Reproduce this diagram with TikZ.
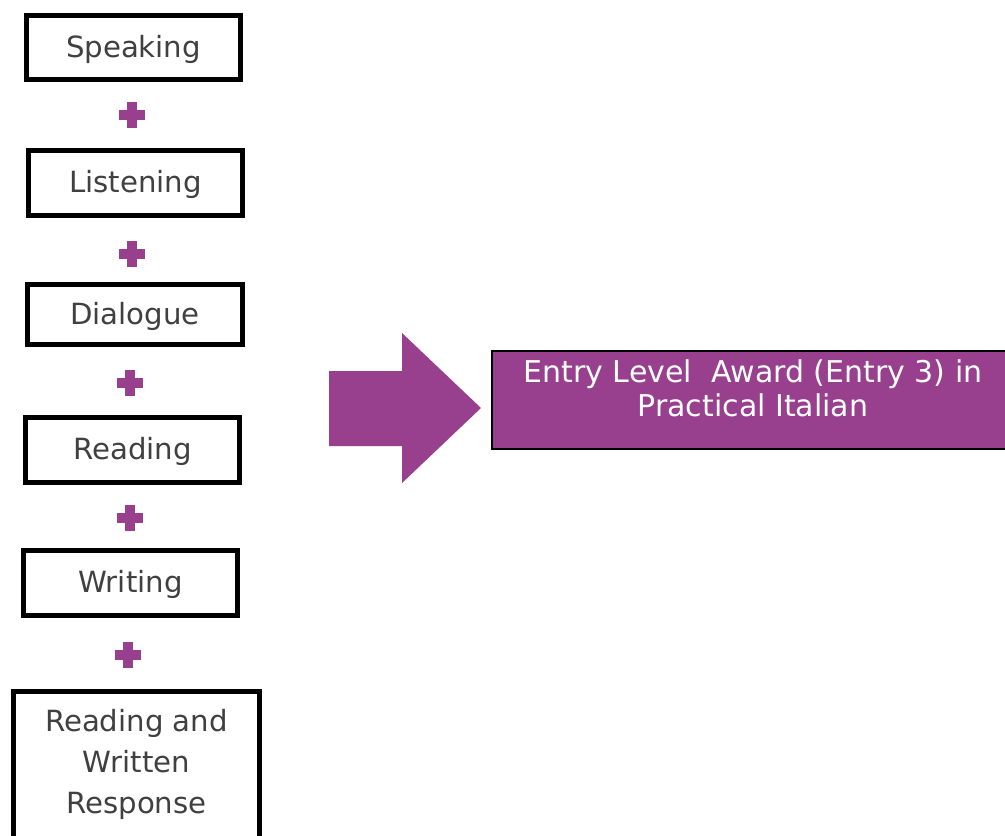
\documentclass[tikz,border=0pt]{standalone}
\usepackage{fontspec}
\setmainfont{DejaVu Sans}
\definecolor{purp}{RGB}{152,63,142}
\definecolor{txtgray}{RGB}{64,64,64}
\tikzset{
  stepbox/.style={draw=black, line width=5pt, fill=white, rectangle, inner sep=0pt,
    text=txtgray, font=\fontsize{29.2}{41}\selectfont, text height=22pt, text depth=3pt},
  boxtext/.style={text=txtgray, align=center, inner sep=0pt, font=\fontsize{29.2}{41}\selectfont},
  awardbox/.style={draw=black, line width=2pt, fill=purp, rectangle, inner sep=0pt},
  awardtext/.style={text=white, align=center, inner sep=0pt, font=\fontsize{30}{34}\selectfont},
  plussign/.pic={\fill[purp] (-13,-5) rectangle (13,5); \fill[purp] (-5,-13) rectangle (5,13);},
}
\begin{document}
\begin{tikzpicture}[x=1pt,y=-1pt]
\useasboundingbox (0,0) rectangle (1005,836);
\clip (0,0) rectangle (1005,836);
\node[stepbox, minimum width=214pt, minimum height=64pt] (speaking) at (133.5,47.5) {Speaking};
\node[stepbox, minimum width=214pt, minimum height=65pt] (listening) at (135.5,183) {Listening};
\node[stepbox, minimum width=215pt, minimum height=60pt] (dialogue) at (135,314.5) {Dialogue};
\node[stepbox, minimum width=214pt, minimum height=65pt] (reading) at (132.5,450) {Reading};
\node[stepbox, minimum width=214pt, minimum height=65pt] (writing) at (130.5,583) {Writing};
\node[stepbox, minimum width=246pt, minimum height=200pt, anchor=north] (rw) at (136.5,688.5) {};
\node[boxtext] (rwt) at (136.5,764) {Reading and\\Written\\Response};
\pic at (132,115) {plussign};
\pic at (132,254) {plussign};
\pic at (130,383) {plussign};
\pic at (130,518) {plussign};
\pic at (128,655) {plussign};
\fill[purp] (329,371) -- (402,371) -- (402,333) -- (481,408) -- (402,483) -- (402,446) -- (329,446) -- cycle;
\node[awardbox, minimum width=522pt, minimum height=98pt] (award) at (753,400) {};
\node[awardtext] (awardt) at (753,388) {Entry Level\ \ Award (Entry 3) in\\Practical Italian};
\end{tikzpicture}
\end{document}
